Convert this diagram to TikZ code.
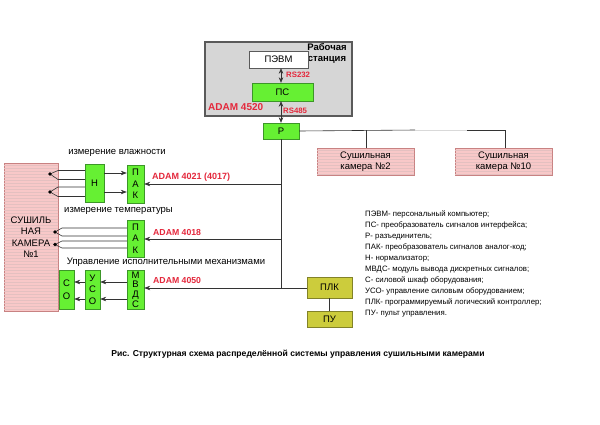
\documentclass[tikz,border=0pt]{standalone}
\usepackage{fontspec}
\setmainfont{Liberation Sans}
\usetikzlibrary{arrows.meta,patterns}
\definecolor{grn}{RGB}{102,240,51}
\definecolor{grnd}{RGB}{60,150,40}
\definecolor{pinkc}{RGB}{248,200,200}
\definecolor{pinkd}{RGB}{200,130,130}
\definecolor{redl}{RGB}{228,40,60}
\definecolor{olivec}{RGB}{204,204,60}
\definecolor{olived}{RGB}{130,130,40}
\definecolor{wsfill}{RGB}{214,214,214}
\definecolor{wsdraw}{RGB}{90,90,90}
\tikzset{
  gbox/.style={draw=grnd, fill=grn, inner sep=0pt, align=center},
  pbox/.style={draw=pinkd, fill=pinkc, postaction={pattern=horizontal lines, pattern color=pinkd!50}, inner sep=0pt, align=center},
  obox/.style={draw=olived, fill=olivec, inner sep=0pt, align=center},
  redlab/.style={text=redl, font=\bfseries\fontsize{8.7}{10}\selectfont, inner sep=0pt},
  plain/.style={inner sep=0pt},
  conn/.style={draw=black!80, line width=0.6pt},
  arr/.style={conn, -{Stealth[length=6pt,width=4.5pt]}},
  darr/.style={conn, {Stealth[length=5.5pt,width=4.5pt]}-{Stealth[length=5.5pt,width=4.5pt]}},
  stack/.style={font=\fontsize{9.5}{11.5}\selectfont},
}
\begin{document}
\begin{tikzpicture}[x=1pt,y=-1pt, font=\fontsize{9.5}{11}\selectfont]
\useasboundingbox[fill=white] (0,0) rectangle (600,424);

% workstation
\node[draw=wsdraw, line width=1.2pt, fill=wsfill, minimum width=147pt, minimum height=74pt, inner sep=0pt] (ws) at (278.5,79) {};
\node[plain, font=\bfseries\fontsize{9.5}{11.5}\selectfont, align=center] (wstext) at (327,53.5) {Рабочая\\станция};
\node[draw=wsdraw, fill=white, minimum width=59pt, minimum height=17pt, inner sep=0pt, font=\fontsize{9.5}{11}\selectfont] (pevm) at (278.5,59.5) {ПЭВМ};
\node[gbox, minimum width=61pt, minimum height=18pt] (ps) at (282.5,92) {ПС};
\node[gbox, minimum width=36pt, minimum height=16pt] (r) at (281,131) {Р};
\node[redlab, font=\bfseries\fontsize{7.8}{9}\selectfont, anchor=west] (rs232) at (286,75) {RS232};
\node[redlab, font=\bfseries\fontsize{7.8}{9}\selectfont, anchor=west] (rs485) at (283,110.5) {RS485};
\node[redlab, font=\bfseries\fontsize{10}{11}\selectfont, anchor=west] (adam4520) at (208,107) {ADAM 4520};
\draw[darr] (pevm.south -| 281,0) -- (ps.north -| 281,0);
\draw[darr] (ps.south -| 281,0) -- (r.north -| 281,0);

% other chambers
\node[pbox, minimum width=97pt, minimum height=27pt] (cam2) at (365.5,161.5) {Сушильная\\камера №2};
\node[pbox, minimum width=97pt, minimum height=27pt] (cam10) at (503.5,161.5) {Сушильная\\камера №10};
\coordinate (c2top) at (366,130);
\coordinate (c10top) at (505,130);
\coordinate (gapA) at (415,130);
\coordinate (gapB) at (467,130);
\draw[conn] (r.east) -- (gapA);
\draw[draw=black!15, line width=0.6pt] (gapA) -- (gapB);
\draw[conn] (gapB) -- (c10top) -- (c10top |- cam10.north);
\draw[conn] (c2top) -- (c2top |- cam2.north);

% PLC
\node[obox, minimum width=45pt, minimum height=21pt] (plk) at (329.5,287.5) {ПЛК};
\node[obox, minimum width=45pt, minimum height=16pt] (pu) at (329.5,319) {ПУ};
\draw[conn] (plk.south) -- (pu.north);
\coordinate (busbot) at (281,288);
\draw[conn] (r.south) -- (busbot);

% chamber 1
\node[pbox, minimum width=54pt, minimum height=148pt, font=\fontsize{9.5}{11.5}\selectfont] (cam1) at (31,237) {СУШИЛЬ\\НАЯ\\КАМЕРА\\№1};

% humidity
\node[plain] (lblh) at (117,153) {измерение влажности};
\node[gbox, minimum width=19pt, minimum height=38pt] (n) at (94.5,183) {Н};
\node[gbox, minimum width=17pt, minimum height=38pt, stack] (pak1) at (135.5,184) {П\\А\\К};
\draw[arr] (n.east |- 0,173) -- (pak1.west |- 0,173);
\draw[arr] (n.east |- 0,192) -- (pak1.west |- 0,192);
\coordinate (t1) at (50,174);
\coordinate (t2) at (50,192);
\draw[conn] (n.west |- 0,170.5) -- (58,170.5) -- (t1) -- (58,179.5) -- (n.west |- 0,179.5);
\draw[conn] (n.west |- 0,187) -- (58,187) -- (t2) -- (58,196.5) -- (n.west |- 0,196.5);
\fill (t1) circle (1.8pt);
\fill (t2) circle (1.8pt);
\coordinate (b1) at (281,184);
\draw[arr] (b1) -- (pak1.east |- b1);
\node[redlab, font=\bfseries\fontsize{9}{10}\selectfont, anchor=west] (adam4021) at (152,177) {ADAM 4021 (4017)};

% temperature
\node[plain] (lblt) at (118.5,211) {измерение температуры};
\node[gbox, minimum width=17pt, minimum height=37pt, stack] (pak2) at (135.5,238.5) {П\\А\\К};
\coordinate (t3) at (55,232);
\coordinate (t4) at (55,244.5);
\draw[conn] (pak2.west |- 0,228) -- (62,228) -- (t3) -- (62,236) -- (pak2.west |- 0,236);
\draw[conn] (pak2.west |- 0,241) -- (62,241) -- (t4) -- (62,248) -- (pak2.west |- 0,248);
\fill (t3) circle (1.8pt);
\fill (t4) circle (1.8pt);
\coordinate (b2) at (281,239);
\draw[arr] (b2) -- (pak2.east |- b2);
\node[redlab, anchor=west] (adam4018) at (153,232) {ADAM 4018};

% actuators
\node[plain] (lbla) at (166,262) {Управление исполнительными механизмами};
\node[gbox, minimum width=17pt, minimum height=39pt, font=\fontsize{9.5}{9.8}\selectfont] (mvds) at (135.5,289.5) {М\\В\\Д\\С};
\node[gbox, minimum width=15pt, minimum height=39pt, stack] (uso) at (92.5,289.5) {У\\С\\О};
\node[gbox, minimum width=15pt, minimum height=39pt, font=\fontsize{9.5}{13}\selectfont] (so) at (66.5,289.5) {С\\О};
\draw[arr] (mvds.west |- 0,282) -- (uso.east |- 0,282);
\draw[arr] (mvds.west |- 0,299) -- (uso.east |- 0,299);
\draw[arr] (uso.west |- 0,282) -- (so.east |- 0,282);
\draw[arr] (uso.west |- 0,299) -- (so.east |- 0,299);
\draw[arr] (plk.west |- busbot) -- (mvds.east |- busbot);
\node[redlab, anchor=west] (adam4050) at (153,280) {ADAM 4050};

% legend
\node[plain, anchor=north west, align=left, font=\fontsize{7.8}{11}\selectfont] (legend) at (365,210.5) {%
ПЭВМ- персональный компьютер;\\
ПС- преобразователь сигналов интерфейса;\\
Р- разъединитель;\\
ПАК- преобразователь сигналов аналог-код;\\
Н- нормализатор;\\
МВДС- модуль вывода дискретных сигналов;\\
С- силовой шкаф оборудования;\\
УСО- управление силовым оборудованием;\\
ПЛК- программируемый логический контроллер;\\
ПУ- пульт управления.};

% caption
\node[plain, font=\bfseries\fontsize{8.6}{10}\selectfont] (caption) at (298,354) {Рис. Структурная схема распределённой системы управления сушильными камерами};
\end{tikzpicture}
\end{document}
